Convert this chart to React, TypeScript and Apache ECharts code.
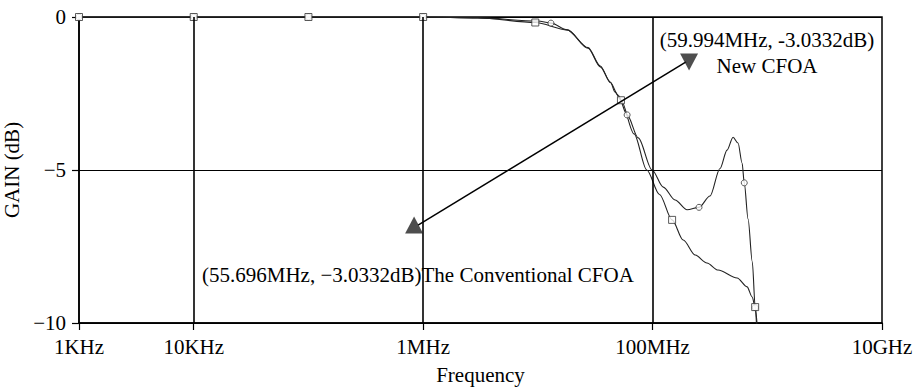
import React, { useEffect, useRef } from "react";
import * as echarts from "echarts";

// Axis ticks / labels
const xTickValues = [1e3, 1e4, 1e6, 1e8, 1e10];
const xTickLabels = ["1KHz", "10KHz", "1MHz", "100MHz", "10GHz"];
const xGridValues = [1e4, 1e6, 1e8];
const yTickValues = [0, -5, -10];
const yTickLabels = ["0", "\u22125", "\u221210"];

// New CFOA (circle markers, with peaking)
const newFreq = [1e3, 1e4, 1e5, 1e6, 3e6, 1e7, 1.3e7, 1.8e7, 2.74e7, 3.5e7, 4.3e7, 5.0e7, 6.0e7, 7.5e7, 9.9e7, 1.24e8, 1.57e8, 2.0e8, 2.54e8, 3.17e8, 3.87e8, 4.46e8, 5.03e8, 5.56e8, 6.03e8, 6.3e8, 6.8e8, 7.4e8, 7.85e8, 8.1e8];
const newGain = [0, 0, 0, 0, -0.03, -0.13, -0.2, -0.42, -1.0, -1.6, -2.15, -2.55, -3.2, -3.95, -5.0, -5.56, -5.98, -6.3, -6.22, -5.85, -4.95, -4.35, -3.93, -4.12, -4.77, -5.42, -6.6, -8.0, -9.5, -10.2];
const newMarkerIdx = [0, 1, 2, 3, 6, 12, 18, 25, 28];

// The Conventional CFOA (square markers)
const convFreq = [1e3, 1e4, 1e5, 1e6, 3e6, 9.5e6, 1.8e7, 2.74e7, 3.5e7, 4.3e7, 4.7e7, 5.3e7, 6.9e7, 8.9e7, 1.15e8, 1.48e8, 1.85e8, 2.35e8, 2.98e8, 3.72e8, 5.46e8, 6.67e8, 7.38e8, 7.84e8, 8.15e8];
const convGain = [0, 0, 0, 0, -0.03, -0.18, -0.42, -1.02, -1.63, -2.13, -2.45, -2.72, -3.82, -5.0, -5.8, -6.63, -7.29, -7.78, -8.04, -8.27, -8.53, -8.82, -9.15, -9.48, -10.05];
const convMarkerIdx = [0, 1, 2, 3, 5, 11, 15, 23];

// Annotation arrow (data coordinates)
const arrowLineFreq = [9.03e5, 1.96e8];
const arrowLineGain = [-6.8, -1.47];
const arrowHeadFreq = [8.34e5, 2.08e8];
const arrowHeadGain = [-6.8, -1.47];
const arrowHeadRotate = [0, 180];

const FONT = '"Liberation Serif", "Times New Roman", serif';
const FS = 21;

const pairs = (f: number[], g: number[]) => f.map((v, i) => [v, g[i]]);

export default function App() {
  const ref = useRef<HTMLDivElement>(null);
  useEffect(() => {
    if (!ref.current) return;
    const chart = echarts.init(ref.current, null, { renderer: "svg" });
    const xLabel = (v: number) => {
      const e = Math.round(Math.log10(v));
      const i = xTickValues.findIndex((t) => Math.round(Math.log10(t)) === e);
      return i >= 0 ? xTickLabels[i] : "";
    };
    const yLabel = (v: number) => {
      const i = yTickValues.findIndex((t) => Math.abs(t - v) < 1e-6);
      return i >= 0 ? yTickLabels[i] : "";
    };
    const option: any = {
      animation: false,
      backgroundColor: "#fff",
      grid: {
        left: 79,
        right: 34,
        top: 17,
        bottom: 67,
        containLabel: false,
        outerBoundsMode: "none",
        show: true,
        borderColor: "#000",
        borderWidth: 1.5,
        backgroundColor: "transparent",
      },
      xAxis: {
        type: "log",
        logBase: 10,
        min: 1e3,
        max: 1e10,
        axisLine: { show: true, onZero: false, lineStyle: { color: "#000", width: 1.6 } },
        axisTick: { show: true, length: 7, customValues: xTickValues, lineStyle: { color: "#000", width: 1.2 } },
        axisLabel: {
          formatter: xLabel,
          customValues: xTickValues,
          color: "#000",
          fontFamily: FONT,
          fontSize: FS,
          margin: 13,
        },
        splitLine: { show: false },
        minorTick: { show: false },
        name: "Frequency",
        nameLocation: "middle",
        nameGap: 41,
        nameTextStyle: { color: "#000", fontFamily: FONT, fontSize: FS },
      },
      yAxis: {
        type: "value",
        min: -10,
        max: 0,
        interval: 5,
        axisLine: { show: true, onZero: false, lineStyle: { color: "#000", width: 1.6 } },
        axisTick: { show: true, length: 7, lineStyle: { color: "#000", width: 1.2 } },
        axisLabel: { formatter: yLabel, color: "#000", fontFamily: FONT, fontSize: FS, margin: 13 },
        splitLine: { show: true, lineStyle: { color: "#000", width: 1.2 } },
        name: "GAIN (dB)",
        nameLocation: "middle",
        nameGap: 35,
        nameRotate: 90,
        nameTextStyle: { color: "#000", fontFamily: FONT, fontSize: FS },
      },
      series: [
        {
          type: "line",
          name: "New CFOA",
          data: pairs(newFreq, newGain),
          smooth: 0.3,
          smoothMonotone: "x",
          symbol: "none",
          lineStyle: { color: "#222", width: 1.1 },
          z: 3,
          markLine: {
            silent: true,
            symbol: ["none", "none"],
            label: { show: false },
            lineStyle: { color: "#000", width: 1.6, type: "solid" },
            emphasis: { disabled: true },
            data: xGridValues.map((v) => ({ xAxis: v })),
          },
        },
        {
          type: "line",
          name: "The Conventional CFOA",
          data: pairs(convFreq, convGain),
          smooth: 0.3,
          smoothMonotone: "x",
          symbol: "none",
          lineStyle: { color: "#222", width: 1.1 },
          z: 3,
        },
        {
          type: "scatter",
          data: newMarkerIdx.map((i) => [newFreq[i], newGain[i]]),
          symbol: "circle",
          symbolSize: 6,
          itemStyle: { color: "#fff", borderColor: "#333", borderWidth: 1 },
          z: 4,
        },
        {
          type: "scatter",
          data: convMarkerIdx.map((i) => [convFreq[i], convGain[i]]),
          symbol: "rect",
          symbolSize: 7,
          itemStyle: { color: "#fff", borderColor: "#333", borderWidth: 1 },
          z: 4,
        },
        {
          type: "line",
          data: pairs(arrowLineFreq, arrowLineGain),
          symbol: "none",
          lineStyle: { color: "#000", width: 1.5 },
          z: 5,
        },
        {
          type: "scatter",
          data: arrowHeadFreq.map((f, i) => ({
            value: [f, arrowHeadGain[i]],
            symbolRotate: arrowHeadRotate[i],
          })),
          symbol: "triangle",
          symbolSize: [18, 17],
          itemStyle: { color: "#222" },
          z: 6,
        },
      ],
      graphic: [
        {
          type: "text",
          x: 767,
          y: 40,
          style: { text: "(59.994MHz, -3.0332dB)", fontFamily: FONT, fontSize: FS, fill: "#000", textAlign: "center", textVerticalAlign: "middle" },
        },
        {
          type: "text",
          x: 767,
          y: 66,
          style: { text: "New CFOA", fontFamily: FONT, fontSize: FS, fill: "#000", textAlign: "center", textVerticalAlign: "middle" },
        },
        {
          type: "text",
          x: 202,
          y: 275,
          style: { text: "(55.696MHz, \u22123.0332dB)The Conventional CFOA", fontFamily: FONT, fontSize: FS, fill: "#000", textAlign: "left", textVerticalAlign: "middle" },
        },
      ],
    };
    chart.setOption(option);
    return () => chart.dispose();
  }, []);
  return (
    <div
      ref={ref}
      style={{ position: "fixed", left: 0, top: 0, width: 916, height: 390, background: "#fff" }}
    />
  );
}
